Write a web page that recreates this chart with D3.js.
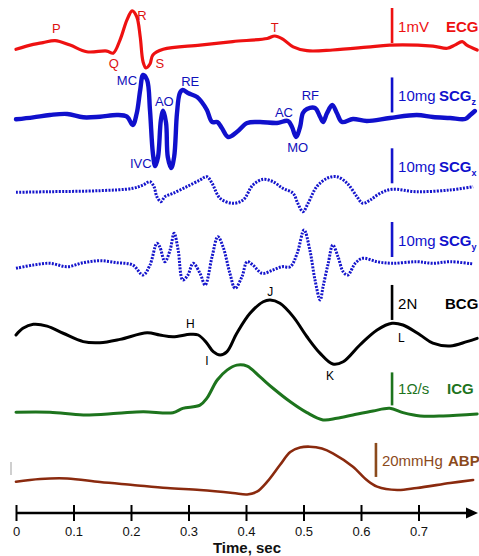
<!DOCTYPE html>
<html>
<head>
<meta charset="utf-8">
<script src="https://cdn.jsdelivr.net/npm/d3@7"></script>
<style>
  html, body { margin: 0; padding: 0; background: #fff; }
  svg { display: block; font-family: "Liberation Sans", Arial, sans-serif; }
</style>
</head>
<body>
<svg id="chart" width="479" height="556"></svg>
<script>
// ---------------- DATA ----------------
// time in seconds, amplitude in signal units (relative to each trace's baseline)
const ecgT = [0,0.030,0.047,0.068,0.094,0.123,0.158,0.169,0.181,0.193,0.202,0.210,0.216,0.221,0.226,0.233,0.238,0.256,0.320,0.377,0.437,0.450,0.464,0.482,0.506,0.551,0.610,0.650,0.725,0.750,0.763,0.776,0.784,0.802];
const ecgV = [0.02,0.16,0.21,0.27,0.14,-0.05,-0.03,-0.09,0.29,0.86,1.12,0.95,0.38,-0.34,-0.51,-0.40,-0.14,0.02,0.14,0.24,0.33,0.40,0.31,0.09,-0.02,0,0.08,0.14,0.11,0.05,0.14,0.24,0.14,0];

const scgzT = [0,0.030,0.059,0.089,0.117,0.146,0.176,0.193,0.203,0.210,0.216,0.221,0.228,0.233,0.238,0.242,0.247,0.252,0.256,0.261,0.264,0.270,0.275,0.280,0.285,0.290,0.299,0.315,0.323,0.332,0.341,0.350,0.358,0.369,0.384,0.402,0.424,0.454,0.473,0.480,0.487,0.494,0.499,0.506,0.520,0.529,0.534,0.541,0.550,0.558,0.567,0.586,0.610,0.650,0.697,0.725,0.755,0.781,0.790,0.798];
const scgzV = [-0.66,-0.09,0.57,0.86,-0.09,0.09,0.57,0.09,-2.29,1.06,7.71,12.0,10.57,2.0,-10.29,-14.0,-11.43,-0.86,1.8,-1.71,-11.43,-14.57,-11.43,1.14,6.86,7.71,6.86,5.71,4.29,2.0,-1.43,-1.43,-3.14,-5.71,-4.29,-1.71,-1.43,-1.71,-1.14,-2.86,-5.71,-2.86,1.14,2.29,2.57,0,-1.43,1.14,3.43,1.14,-1.43,-0.57,-1.14,-0.29,0.57,0,-0.29,-0.57,0.57,1.71];

const scgxT = [0,0.059,0.146,0.203,0.221,0.233,0.240,0.245,0.252,0.259,0.273,0.297,0.320,0.332,0.341,0.355,0.377,0.395,0.412,0.430,0.447,0.464,0.482,0.490,0.499,0.508,0.523,0.541,0.558,0.576,0.593,0.603,0.616,0.633,0.654,0.697,0.755,0.795];
const scgxV = [-0.37,-0.2,0.09,0.77,1.71,2.66,1.23,-1.63,-3.06,-1.63,-0.66,1.23,3.14,4.09,2.2,-2.09,-3.51,-2.57,1.71,3.34,2.66,0.77,-0.66,-3.51,-5.91,-3.51,1.23,3.63,4.09,2.2,-1.63,-3.51,-2.57,-0.66,0.49,-0.2,0.29,1.23];

const scgyT = [0,0.030,0.059,0.089,0.117,0.146,0.176,0.203,0.221,0.233,0.245,0.250,0.259,0.268,0.275,0.282,0.290,0.299,0.308,0.320,0.329,0.341,0.351,0.360,0.372,0.381,0.393,0.402,0.412,0.428,0.447,0.463,0.477,0.489,0.501,0.511,0.520,0.529,0.534,0.543,0.551,0.560,0.569,0.577,0.590,0.603,0.628,0.654,0.697,0.725,0.755,0.795];
const scgyV = [-1.23,-0.29,0.2,-0.77,0.37,0.94,0.37,-0.29,-3.14,-0.29,5.91,4.94,0.66,4.0,8.77,4.0,-4.57,-3.14,0.2,-2.66,-6.0,2.09,7.8,4.94,-2.66,-6.94,-3.63,0.66,-0.29,-2.66,-1.71,-0.77,-0.77,3.06,9.71,4.0,-4.57,-10.29,-6.49,0.2,5.43,2.09,-2.2,-3.14,0.2,1.63,0.66,0.2,0.66,0.2,0.66,0];

const bcgT = [0,0.012,0.030,0.054,0.082,0.117,0.146,0.181,0.228,0.250,0.273,0.303,0.317,0.332,0.343,0.355,0.367,0.384,0.407,0.430,0.442,0.459,0.482,0.506,0.529,0.551,0.569,0.598,0.628,0.654,0.673,0.703,0.725,0.755,0.784,0.802];
const bcgV = [0,0.38,0.61,0.51,0.10,-0.38,-0.44,-0.25,0.13,0,-0.10,0.04,0,-0.47,-0.95,-1.14,-0.95,0.10,1.24,1.90,2.0,1.81,1.05,-0.10,-1.05,-1.66,-1.53,-0.57,0.29,0.67,0.57,0,-0.47,-0.63,-0.38,-0.19];

const icgT = [0,0.059,0.117,0.176,0.221,0.273,0.290,0.320,0.332,0.350,0.367,0.384,0.402,0.424,0.447,0.477,0.506,0.534,0.558,0.586,0.621,0.650,0.673,0.703,0.743,0.802];
const icgV = [-0.01,-0.01,-0.09,-0.04,0.01,-0.02,0.11,0.21,0.42,0.97,1.27,1.42,1.39,1.07,0.72,0.31,-0.02,-0.24,-0.19,-0.09,0.03,0.11,-0.02,-0.12,-0.12,-0.06];

const abpT = [0,0.042,0.089,0.146,0.203,0.263,0.320,0.377,0.402,0.419,0.437,0.459,0.477,0.494,0.511,0.532,0.551,0.586,0.610,0.628,0.663,0.697,0.755,0.795];
const abpV = [-1.0,0.6,0.9,-1.2,-2.9,-4.7,-5.9,-7.6,-8.5,-6.9,-1.0,8.8,16.5,19.1,19.6,18.5,15.7,7.8,0,-3.9,-5.9,-4.7,-1.8,0];

const xTickValues = [0,0.1,0.2,0.3,0.4,0.5,0.6,0.7];
const xTickLabels = ["0","0.1","0.2","0.3","0.4","0.5","0.6","0.7"];
const xTitle = "Time, sec";

const traceNames  = ["ECG","SCG","SCG","SCG","BCG","ICG","ABP"];
const traceSubs   = ["","z","x","y","","",""];
const scaleTexts  = ["1mV","10mg","10mg","10mg","2N","1\u03A9/s","20mmHg"];
const scaleAmount = [1,10,10,10,2,1,20];
const scaleStart  = [0.2,1.3,2.2,2.0,0.86,0.2,1.8];

// peak annotations [text, t, v]
const ecgMarks  = [["P",0.070,0.49],["R",0.219,0.86],["Q",0.170,-0.51],["S",0.250,-0.51],["T",0.450,0.51]];
const scgzMarks = [["MC",0.193,9.14],["RE",0.303,8.86],["AO",0.258,3.14],["IVC",0.217,-14.57],["AC",0.466,0],["MO",0.490,-10],["RF",0.512,4.86]];
const bcgMarks  = [["H",0.303,0.4],["I",0.332,-1.71],["J",0.442,2.23],["K",0.546,-2.57],["L",0.670,-0.4]];

// ---------------- LAYOUT / STYLE ----------------
const svg = d3.select("#chart");
const x = d3.scaleLinear().domain([0, 0.8]).range([16, 476]);

const layout = [
  {t:ecgT,  v:ecgV,  y0:50,  ppu:35,  color:"#ee1111", w:3.2, dash:null, barT:0.654, marks:ecgMarks,  mColor:"#dd1111", mSize:13, tColor:"#ee1111", nColor:"#ee1111"},
  {t:scgzT, v:scgzV, y0:117, ppu:3.5, color:"#1010cc", w:4.4, dash:null, barT:0.654, marks:scgzMarks, mColor:"#1010bb", mSize:13, tColor:"#1010cc", nColor:"#1010cc"},
  {t:scgxT, v:scgxV, y0:191, ppu:3.5, color:"#1515cc", w:3,   dash:"2,1.3", barT:0.654, marks:[], tColor:"#1010cc", nColor:"#1010cc"},
  {t:scgyT, v:scgyV, y0:264, ppu:3.5, color:"#1515cc", w:3,   dash:"2,1.3", barT:0.654, marks:[], tColor:"#1010cc", nColor:"#1010cc"},
  {t:bcgT,  v:bcgV,  y0:335, ppu:17.5,color:"#000000", w:3,   dash:null, barT:0.654, marks:bcgMarks,  mColor:"#000", mSize:12, tColor:"#000", nColor:"#000"},
  {t:icgT,  v:icgV,  y0:412, ppu:33,  color:"#1d741d", w:3,   dash:null, barT:0.654, marks:[], tColor:"#1d741d", nColor:"#1d741d"},
  {t:abpT,  v:abpV,  y0:480, ppu:1.7, color:"#8a2a0e", w:2.6, dash:null, barT:0.626, marks:[], tColor:"#8b4a1c", nColor:"#8b4a1c", barColor:"#8b4a1c"}
];
const nameX = [446,439,439,439,445,447,448];

layout.forEach((L, i) => {
  const y = d3.scaleLinear().domain([0, 1]).range([L.y0, L.y0 - L.ppu]);
  const data = L.t.map((t, j) => [t, L.v[j]]);
  const line = d3.line().x(d => x(d[0])).y(d => y(d[1])).curve(d3.curveCatmullRom.alpha(0.5));

  // scale bar
  const bx = x(L.barT);
  const yb0 = y(scaleStart[i]), yb1 = y(scaleStart[i] + scaleAmount[i]);
  svg.append("line").attr("x1", bx).attr("x2", bx).attr("y1", yb0).attr("y2", yb1)
    .attr("stroke", L.barColor || L.color).attr("stroke-width", 2.6);

  // trace
  svg.append("path").datum(data).attr("d", line)
    .attr("fill", "none").attr("stroke", L.color).attr("stroke-width", L.w)
    .attr("stroke-linejoin", "round").attr("stroke-linecap", L.dash ? "butt" : "round")
    .attr("stroke-dasharray", L.dash);

  // scale text
  svg.append("text").attr("x", bx + 6).attr("y", yb0 - 11)
    .attr("font-size", 15).attr("fill", L.tColor).text(scaleTexts[i]);

  // name
  const nt = svg.append("text").attr("x", nameX[i]).attr("y", yb0 - 11)
    .attr("font-size", 15).attr("font-weight", "bold").attr("fill", L.nColor).text(traceNames[i]);
  if (traceSubs[i]) nt.append("tspan").attr("font-size", 9).attr("dy", 4).text(traceSubs[i]);

  // peak marks
  L.marks.forEach(m => {
    svg.append("text").attr("x", x(m[1])).attr("y", y(m[2]))
      .attr("text-anchor", "middle").attr("font-size", L.mSize).attr("fill", L.mColor).text(m[0]);
  });
});

// small grey mark at left of ABP
svg.append("line").attr("x1", 11).attr("x2", 11).attr("y1", 462).attr("y2", 475)
  .attr("stroke", "#cfcfcf").attr("stroke-width", 2);

// ---------------- AXIS ----------------
const axisY = 513;
const axis = d3.axisBottom(x).tickValues(xTickValues).tickFormat((d, i) => xTickLabels[i]).tickSizeOuter(0);
const gAxis = svg.append("g").attr("transform", `translate(0,${axisY})`).call(axis);
gAxis.select(".domain").remove();
gAxis.selectAll(".tick line").attr("y1", -8).attr("y2", 8).attr("stroke", "#000").attr("stroke-width", 2);
gAxis.selectAll(".tick text").attr("y", 23).attr("dy", 0).attr("font-size", 13)
  .attr("font-family", "Liberation Sans, Arial, sans-serif").attr("fill", "#111");
svg.append("line").attr("x1", x(0)).attr("x2", 468).attr("y1", axisY).attr("y2", axisY)
  .attr("stroke", "#000").attr("stroke-width", 2.6);
svg.append("path").attr("d", `M466,${axisY - 5.5} L478,${axisY} L466,${axisY + 5.5} Z`).attr("fill", "#000");
svg.append("text").attr("x", 247).attr("y", 553).attr("text-anchor", "middle")
  .attr("font-size", 15).attr("font-weight", "bold").attr("fill", "#111").text(xTitle);
</script>
</body>
</html>
